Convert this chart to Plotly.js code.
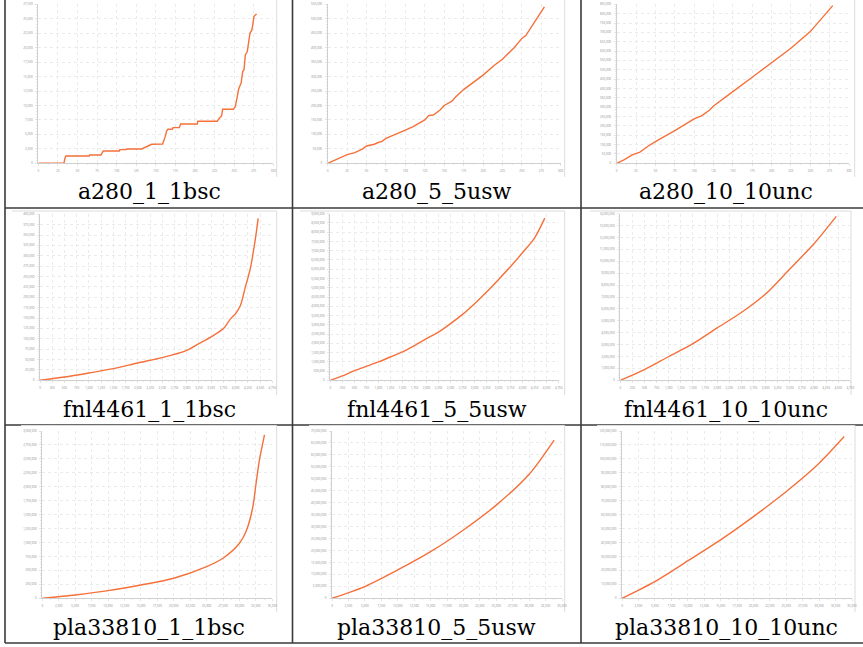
<!DOCTYPE html>
<html>
<head>
<meta charset="utf-8">
<script src="https://cdn.plot.ly/plotly-3.0.1.min.js"></script>
<style>
html,body{margin:0;padding:0;background:#fff;}
#chart{width:863px;height:647px;}
</style>
</head>
<body>
<div id="chart"></div>
<script>
// ---------------- DATA ----------------
const captions = ['a280_1_1bsc','a280_5_5usw','a280_10_10unc',
                  'fnl4461_1_1bsc','fnl4461_5_5usw','fnl4461_10_10unc',
                  'pla33810_1_1bsc','pla33810_5_5usw','pla33810_10_10unc'];

const a280_1_1bsc_x = [0,32.8,34,35.3,65,65.5,80,81.5,83,103.4,104,112,112.5,132,136,141,144.7,158.7,160.5,162,163.8,165.5,171,172,180,181.7,203,203.6,228.5,231,234,235.3,249,251.5,254,255.7,259,260.9,262.6,264.3,266.8,270.2,272.7,275.3,277,278.7];
const a280_1_1bsc_y = [0,0,900,1250,1250,1440,1440,1900,2130,2130,2360,2360,2480,2480,2750,3100,3290,3340,4000,4610,5590,5880,5880,6170,6170,6800,6800,7260,7260,7800,8180,9340,9340,9800,11530,12800,13950,15860,16150,18740,19320,22490,23060,25370,25660,25830];

const a280_5_5usw_x = [0,10,25,35,45,50,60,65,70,75,90,100,110,125,130,136,145,150,160,165,175,190,200,215,225,240,250,255,265,279];
const a280_5_5usw_y = [0,12000,30000,37000,50000,60000,66000,72000,76000,86000,105000,115000,127000,150000,165000,167000,185000,200000,215000,230000,255000,285000,305000,340000,360000,400000,432000,442000,482000,541000];

const a280_10_10unc_x = [0,10,20,25,30,40,50,75,100,110,120,125,140,150,175,200,210,225,250,279];
const a280_10_10unc_y = [0,20000,45000,52000,60000,90000,116000,175000,237000,255000,285000,306000,350000,383000,460000,540000,570000,615000,704000,843000];

const fnl4461_1_1bsc_x = [0,500,1000,1500,2000,2500,3000,3250,3500,3750,3900,4000,4100,4200,4300,4400,4461];
const fnl4461_1_1bsc_y = [0,8000,17700,28000,41800,54700,72300,88400,104500,124600,148700,160800,180900,225000,269000,337600,390000];

const fnl4461_5_5usw_x = [0,250,500,750,1000,1250,1500,1750,2000,2250,2500,2750,3000,3250,3500,3750,4000,4250,4461];
const fnl4461_5_5usw_y = [0,234000,520000,755000,990000,1260000,1530000,1870000,2250000,2600000,3060000,3560000,4140000,4770000,5450000,6150000,6900000,7700000,8760000];

const fnl4461_10_10unc_x = [0,500,1000,1500,2000,2500,3000,3500,4000,4461];
const fnl4461_10_10unc_y = [0,900000,2000000,3080000,4400000,5700000,7250000,9350000,11480000,13780000];

const pla33810_1_1bsc_x = [0,5000,10000,15000,20000,25000,27500,30000,31000,32000,32500,33000,33810];
const pla33810_1_1bsc_y = [0,60000,137000,239000,359000,568000,718000,987000,1196000,1615000,2033000,2452000,2930000];

const pla33810_5_5usw_x = [0,5000,10000,15000,20000,25000,30000,33810];
const pla33810_5_5usw_y = [0,4900000,11850000,19500000,28600000,39000000,51900000,66200000];

const pla33810_10_10unc_x = [0,5000,10000,15000,20000,25000,30000,33810];
const pla33810_10_10unc_y = [0,12000000,26800000,41900000,58600000,76600000,96900000,116000000];

const seriesX = [a280_1_1bsc_x,a280_5_5usw_x,a280_10_10unc_x,fnl4461_1_1bsc_x,fnl4461_5_5usw_x,fnl4461_10_10unc_x,pla33810_1_1bsc_x,pla33810_5_5usw_x,pla33810_10_10unc_x];
const seriesY = [a280_1_1bsc_y,a280_5_5usw_y,a280_10_10unc_y,fnl4461_1_1bsc_y,fnl4461_5_5usw_y,fnl4461_10_10unc_y,pla33810_1_1bsc_y,pla33810_5_5usw_y,pla33810_10_10unc_y];

const yAxisMax  = [27500,550000,850000,400000,9000000,14000000,3000000,70000000,120000000];
const yTickStep = [2500,50000,50000,25000,500000,1000000,250000,5000000,10000000];
const xAxisMax  = [300,300,300,4750,4750,4750,35000,35000,35000];
const xTickStep = [25,25,25,250,250,250,2500,2500,2500];

// ---------------- LAYOUT (pixels) ----------------
const W = 863, H = 647;
// plot areas: [x0, x1, yTop, yBottom]
const plotBoxes = [
  [38.3,273.3,4.3,163.3],[327.7,560.7,4.3,163.3],[616.7,849,4.3,163.3],
  [40,272.3,214.3,380.3],[330.3,558.7,213.7,380.3],[620.3,850.3,213.7,380.3],
  [42.3,272.3,431,598.3],[332,562,431,598.3],[622,852,431,598.3]
];
const lineShapes = ['linear','linear','linear','spline','spline','spline','spline','spline','spline'];
// image frames: [x0,x1,yTop,yBottom]
const frames = [
  [10,276.7,-2,177],[300,564.7,-2,177],[590,854.7,-2,177],
  [12,276.7,211,395],[300,564.7,211,395],[590,851,211,395],
  [21,276.7,425.5,612],[309,564.7,425.5,612],[597,855,425.5,612]
];
const capX = [149,437,726];
const capY = [191.5,409.5,627.5];

const px = v => v / W;
const py = v => 1 - v / H;

const data = [];
const layout = {
  width: W, height: H,
  margin: {l:0,r:0,t:0,b:0},
  paper_bgcolor: '#fff',
  plot_bgcolor: 'rgba(0,0,0,0)',
  showlegend: false,
  shapes: [],
  annotations: []
};

const lineCol = '#3a3a3a';
const tl = (x0,y0,x1,y1) => layout.shapes.push({type:'line',xref:'paper',yref:'paper',layer:'below',
  x0:px(x0),x1:px(x1),y0:py(y0),y1:py(y1),line:{color:lineCol,width:1.6}});
tl(5,0,5,643);
tl(292.5,0,292.5,643);
tl(581,0,581,643);
tl(5,208,863,208);
tl(5,425,863,425);
tl(5,643,863,643);

frames.forEach(f => {
  layout.shapes.push({type:'rect',xref:'paper',yref:'paper',layer:'below',
    x0:px(f[0]),x1:px(f[1]),y0:py(f[3]),y1:py(f[2]),fillcolor:'#fff',line:{width:0}});
});
frames.forEach(f => {
  layout.shapes.push({type:'line',xref:'paper',yref:'paper',layer:'below',
    x0:px(f[1]),x1:px(f[1]),y0:py(f[3]),y1:py(Math.max(f[2],0)),line:{color:'#dcdcdc',width:1}});
  if (f[2] > 0) {
    layout.shapes.push({type:'line',xref:'paper',yref:'paper',layer:'below',
      x0:px(f[0]),x1:px(f[1]),y0:py(f[2]),y1:py(f[2]),line:{color:'#dcdcdc',width:1}});
  }
});

for (let i = 0; i < 9; i++) {
  const n = i === 0 ? '' : String(i+1);
  const b = plotBoxes[i];
  data.push({
    type:'scatter', mode:'lines',
    x: seriesX[i], y: seriesY[i],
    xaxis:'x'+n, yaxis:'y'+n,
    line:{color:'#f5703a', width:1.4, shape:lineShapes[i], smoothing:0.8},
    hoverinfo:'skip'
  });
  const common = {
    showgrid:true, gridcolor:'#ebebeb', griddash:'dot', gridwidth:1,
    zeroline:false, showline:true, linecolor:'#cfcfcf', linewidth:1,
    ticks:'outside', ticklen:2, tickcolor:'#d0d0d0', tickwidth:0.6,
    tickfont:{family:'Open Sans, sans-serif', size:3, color:'#8c8c8c'},
    tickformat:',d', fixedrange:true
  };
  layout['xaxis'+n] = Object.assign({}, common, {
    domain:[px(b[0]), px(b[1])],
    range:[0, xAxisMax[i]], tick0:0, dtick:xTickStep[i],
    anchor:'y'+n, ticklabelstandoff:2,
    minor:{ticks:'outside', ticklen:1, tickcolor:'#d8d8d8', nticks:3}
  });
  layout['yaxis'+n] = Object.assign({}, common, {
    domain:[py(b[3]), py(b[2])],
    range:[0, yAxisMax[i]], tick0:0, dtick:yTickStep[i],
    anchor:'x'+n, ticklabelstandoff:2,
    minor:{ticks:'outside', ticklen:1, tickcolor:'#d8d8d8', nticks:5}
  });
  layout.annotations.push({
    xref:'paper', yref:'paper', x:px(capX[i%3]), y:py(capY[Math.floor(i/3)]),
    xanchor:'center', yanchor:'middle', showarrow:false,
    text:captions[i],
    font:{family:'DejaVu Serif, serif', size:22, color:'#000'}
  });
}

Plotly.newPlot('chart', data, layout, {staticPlot:true, displayModeBar:false});
</script>
</body>
</html>
